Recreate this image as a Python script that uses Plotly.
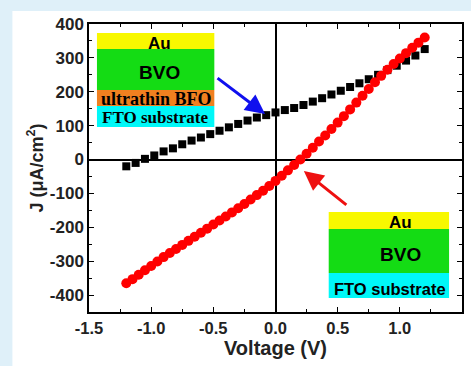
import plotly.graph_objects as go

# ---- data ----
v_bfo = [round(-1.2 + 0.075 * k, 3) for k in range(33)]
j_bfo = [-20, -10, 2, 12, 24, 33, 45, 56, 65, 75, 85, 95, 105, 115, 124, 131,
         139, 146, 152, 161, 171, 181, 192, 203, 214, 225, 237, 250, 264, 277,
         292, 307, 326]

v_bvo = [round(-1.2 + 0.05 * k, 2) for k in range(49)]
j_bvo = [-365, -353, -340, -327, -314, -301, -288, -276, -264, -252, -240, -228,
         -216, -204, -192, -180, -168, -156, -144, -131, -118, -105, -92, -78,
         -63, -48, -32, -16, 0, 17, 35, 53, 71, 90, 109, 128, 148, 168, 188,
         208, 228, 247, 265, 282, 298, 314, 330, 345, 360]

x_ticks = [-1.5, -1.0, -0.5, 0.0, 0.5, 1.0, 1.5]
y_ticks = [-400, -300, -200, -100, 0, 100, 200, 300, 400]

W, H = 471, 366
L, R, T, B = 89, 7, 24, 54
PW, PH = W - L - R, H - T - B


def px(x):
    return (x - L) / PW


def py(y):
    return (H - B - y) / PH


fig = go.Figure()
fig.add_trace(go.Scatter(x=v_bfo, y=j_bfo, mode="markers",
                         marker=dict(symbol="square", size=8, color="black"),
                         showlegend=False))
fig.add_trace(go.Scatter(x=v_bvo, y=j_bvo, mode="markers",
                         marker=dict(symbol="circle", size=10, color="#ff0000"),
                         showlegend=False))

shapes = []
# white panel
shapes.append(dict(type="rect", xref="paper", yref="paper", x0=px(12), x1=px(W + 5),
                   y0=py(H + 5), y1=py(11), fillcolor="white", line=dict(width=0),
                   layer="below"))


def box(x0, x1, y0, y1, color):
    shapes.append(dict(type="rect", xref="paper", yref="paper", x0=px(x0), x1=px(x1),
                       y0=py(y1), y1=py(y0), fillcolor=color, line=dict(width=0),
                       layer="above"))


# top-left stack
box(97, 215, 33, 49, "#f8f800")
box(97, 215, 49, 90, "#14dc14")
box(97, 215, 90, 106, "#f08020")
box(97, 215, 106, 127, "#00f8f8")
# bottom-right stack
box(330, 451, 212, 229, "#f8f800")
box(330, 451, 229, 273, "#14dc14")
box(330, 451, 273, 298, "#00f8f8")

annotations = []


def label(x, y, text, size, family):
    annotations.append(dict(xref="paper", yref="paper", x=px(x), y=py(y), text=text,
                            showarrow=False, xanchor="center", yanchor="middle",
                            font=dict(size=size, family=family, color="black")))


sans = "Liberation Sans, Arial"
serif = "Liberation Serif, Times New Roman"
label(160, 43, "<b>Au</b>", 17, sans)
label(160, 73, "<b>BVO</b>", 19, sans)
label(157, 99, "<b>ultrathin BFO</b>", 18, serif)
label(155, 118, "<b>FTO substrate</b>", 17, serif)
label(402, 222, "<b>Au</b>", 17, sans)
label(402, 254, "<b>BVO</b>", 19, sans)
label(392, 289, "<b>FTO substrate</b>", 16.5, sans)

# arrows
annotations.append(dict(xref="paper", yref="paper", x=px(266), y=py(114), text="",
                        showarrow=True, ax=217 - 266, ay=77 - 114, arrowhead=2,
                        arrowsize=1.3, arrowwidth=3, arrowcolor="#1010ee"))
annotations.append(dict(xref="paper", yref="paper", x=px(305), y=py(171), text="",
                        showarrow=True, ax=349 - 305, ay=206 - 171, arrowhead=2,
                        arrowsize=1.3, arrowwidth=3, arrowcolor="#ee1010"))

axis_common = dict(showline=True, linecolor="black", linewidth=1.5, mirror="ticks",
                   ticks="inside", ticklen=5, tickwidth=1.2, tickcolor="black",
                   showgrid=False, zeroline=True, zerolinecolor="black",
                   zerolinewidth=1.5)

fig.update_layout(
    width=W, height=H,
    margin=dict(l=L, r=R, t=T, b=B),
    paper_bgcolor="#dff0f9", plot_bgcolor="white",
    shapes=shapes, annotations=annotations,
    xaxis=dict(range=[-1.5, 1.5], tickvals=x_ticks,
               ticktext=["<b>%.1f</b>" % v for v in x_ticks],
               tickfont=dict(size=16.5, family=sans, color="#222"),
               minor=dict(dtick=0.25, ticks="inside", ticklen=3, tickcolor="black"),
               title=dict(text="<b>Voltage (V)</b>", standoff=4,
                          font=dict(size=20, family=sans, color="#222")),
               **axis_common),
    yaxis=dict(range=[-450, 400], tickvals=y_ticks,
               ticktext=["<b>%d</b>" % v for v in y_ticks],
               tickfont=dict(size=17, family=sans, color="#222"),
               minor=dict(dtick=50, ticks="inside", ticklen=3, tickcolor="black"),
               title=dict(text="<b>J (μA/cm<sup>2</sup>)</b>", standoff=2,
                          font=dict(size=18, family=sans, color="#222")),
               **axis_common),
)

fig.write_html("out.html")
